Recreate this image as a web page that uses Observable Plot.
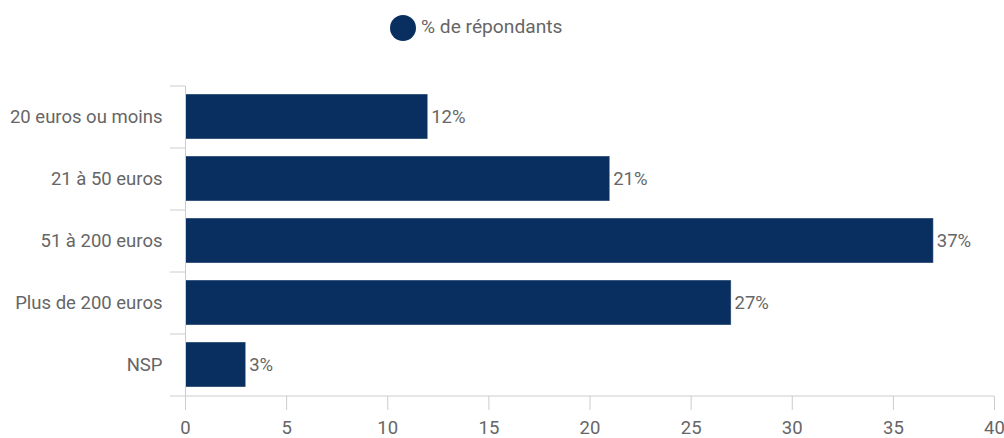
<!DOCTYPE html>
<html><head><meta charset="utf-8">
<script src="https://cdn.jsdelivr.net/npm/d3@7"></script>
<script src="https://cdn.jsdelivr.net/npm/@observablehq/plot@0.6"></script>
<style>
body{margin:0;background:#fff;font-family:Roboto,sans-serif;}
#legend{position:relative;height:60px;width:1004px;}
#legend .dot{position:absolute;left:390px;top:15px;width:26px;height:26px;border-radius:50%;background:#082f5f;}
#legend .lab{position:absolute;left:421px;top:16px;font-size:19.2px;color:#666;line-height:22px;}
svg{display:block;}
</style></head>
<body>
<div id="legend"><div class="dot"></div><div class="lab">% de répondants</div></div>
<div id="chart"></div>
<script>
const categories = ["20 euros ou moins","21 à 50 euros","51 à 200 euros","Plus de 200 euros","NSP"];
const values = [12, 21, 37, 27, 3];
const xTicks = [0,5,10,15,20,25,30,35,40];
const data = categories.map((c,i)=>({cat:c, v:values[i]}));
const color = "#082f5f";
const grey = "#ccc";
const txt = "#666";

const chart = Plot.plot({
  width: 1004, height: 378,
  marginTop: 26, marginBottom: 42, marginLeft: 185, marginRight: 10,
  style: {fontFamily: "Roboto, sans-serif", fontSize: "18.5px", color: txt, background: "#fff"},
  x: {domain: [0, 40], ticks: xTicks, label: null},
  y: {domain: categories, paddingInner: 0.27, paddingOuter: 0.135, label: null},
  marks: [
    Plot.barX(data, {x: "v", y: "cat", fill: color, stroke: "#fff", strokeOpacity: 0.4, strokeWidth: 1}),
    Plot.text(data, {x: "v", y: "cat", text: d => d.v + "%", textAnchor: "start", dx: 3, fill: txt, fontSize: 18.5}),
    Plot.axisY({tickSize: 0, tickPadding: 23, fill: txt, label: null, fontSize: 18.5}),
    Plot.axisY({tickSize: 15, tickFormat: () => "", dy: -31, stroke: grey, label: null}),
    Plot.axisX({ticks: xTicks, tickSize: 14, tickPadding: 10, stroke: grey, fill: txt, label: null, fontSize: 18.5}),
    Plot.ruleX([0], {stroke: grey}),
    Plot.ruleY([0], {y: () => categories[categories.length-1], dy: 31, x1: 0, x2: 40, stroke: grey, insetLeft: -15}),
    Plot.ruleX([0], {stroke: grey, insetBottom: -1})
  ]
});
document.getElementById("chart").appendChild(chart);
</script>
</body></html>
